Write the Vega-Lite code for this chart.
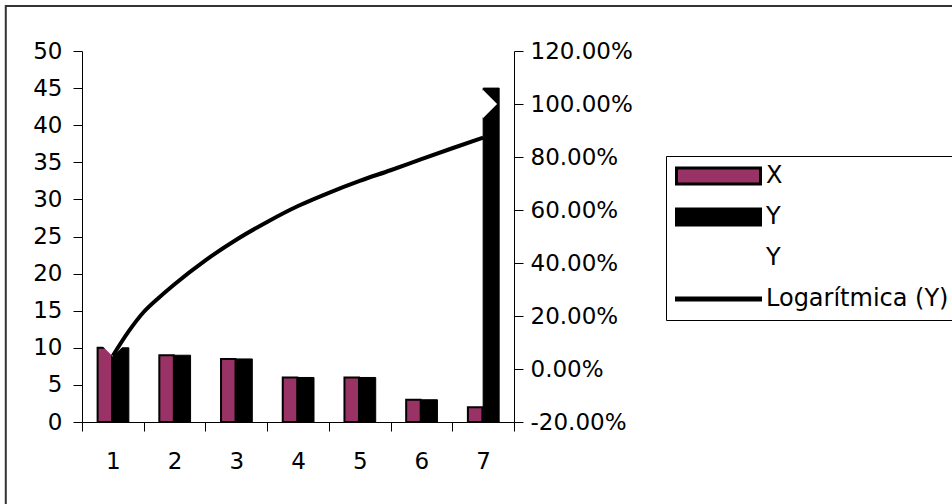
{
  "$schema": "https://vega.github.io/schema/vega-lite/v6.json",
  "width": 432,
  "height": 371,
  "autosize": {"type": "none"},
  "padding": {"left": 82, "top": 51, "right": 438, "bottom": 82},
  "background": "white",
  "config": {
    "view": {"stroke": null},
    "font": "DejaVu Sans"
  },
  "datasets": {
    "one": [{"k": 1}],
    "bars": [
      {"x": 1, "series": "X", "value": 10},
      {"x": 2, "series": "X", "value": 9},
      {"x": 3, "series": "X", "value": 8.5},
      {"x": 4, "series": "X", "value": 6},
      {"x": 5, "series": "X", "value": 6},
      {"x": 6, "series": "X", "value": 3},
      {"x": 7, "series": "X", "value": 2},
      {"x": 1, "series": "Y", "value": 10},
      {"x": 2, "series": "Y", "value": 9},
      {"x": 3, "series": "Y", "value": 8.5},
      {"x": 4, "series": "Y", "value": 6},
      {"x": 5, "series": "Y", "value": 6},
      {"x": 6, "series": "Y", "value": 3},
      {"x": 7, "series": "Y", "value": 45}
    ],
    "marker": [
      {"x": 1, "pct": 0.1},
      {"x": 7, "pct": 1.0}
    ],
    "trend": [
      {"x": 1, "pct": 0.05},
      {"x": 1.25, "pct": 0.14},
      {"x": 1.5, "pct": 0.215},
      {"x": 1.75, "pct": 0.27},
      {"x": 2, "pct": 0.32},
      {"x": 2.5, "pct": 0.41},
      {"x": 3, "pct": 0.488},
      {"x": 3.5, "pct": 0.555},
      {"x": 4, "pct": 0.615},
      {"x": 4.5, "pct": 0.665},
      {"x": 5, "pct": 0.71},
      {"x": 5.5, "pct": 0.75},
      {"x": 6, "pct": 0.792},
      {"x": 6.5, "pct": 0.833},
      {"x": 7, "pct": 0.873}
    ]
  },
  "layer": [
    {
      "layer": [
        {
          "data": {"name": "one"},
          "mark": {"type": "rect", "fill": "transparent", "stroke": "#333", "strokeWidth": 2, "clip": false},
          "encoding": {
            "x": {
              "datum": -0.735, "type": "quantitative",
              "scale": {"domain": [0.5, 7.5], "nice": false, "zero": false, "padding": 0},
              "axis": {
                "title": null,
                "values": [0.5, 1.5, 2.5, 3.5, 4.5, 5.5, 6.5, 7.5],
                "labelExpr": "datum.value < 1 ? '' : format(datum.value - 0.5, 'd')",
                "labelOffset": -30.857, "labelFlush": false, "labelOverlap": false,
                "tickSize": 9, "tickColor": "#000", "domain": true, "domainColor": "#000", "grid": false,
                "labelFont": "DejaVu Sans", "labelFontSize": 23, "labelColor": "#000", "labelPadding": 19
              }
            },
            "x2": {"datum": 20},
            "y": {
              "datum": 56.06, "type": "quantitative",
              "scale": {"domain": [0, 50], "nice": false, "zero": false, "padding": 0},
              "axis": {
                "title": null,
                "values": [0, 5, 10, 15, 20, 25, 30, 35, 40, 45, 50],
                "labelOverlap": false,
                "tickSize": 9, "tickColor": "#000", "domain": true, "domainColor": "#000", "grid": false,
                "labelFont": "DejaVu Sans", "labelFontSize": 23, "labelColor": "#000", "labelPadding": 11
              }
            },
            "y2": {"datum": -20}
          }
        },
        {
          "data": {"name": "bars"},
          "transform": [{"filter": "datum.series === 'X'"}],
          "mark": {"type": "bar", "size": 14.5, "xOffset": -8, "stroke": "#000", "strokeWidth": 2},
          "encoding": {
            "x": {
              "field": "x", "type": "quantitative",
              "scale": {"domain": [0.5, 7.5], "nice": false, "zero": false, "padding": 0},
              "axis": {
                "title": null,
                "values": [0.5, 1.5, 2.5, 3.5, 4.5, 5.5, 6.5, 7.5],
                "labelExpr": "datum.value < 1 ? '' : format(datum.value - 0.5, 'd')",
                "labelOffset": -30.857, "labelFlush": false, "labelOverlap": false,
                "tickSize": 9, "tickColor": "#000", "domain": true, "domainColor": "#000", "grid": false,
                "labelFont": "DejaVu Sans", "labelFontSize": 23, "labelColor": "#000", "labelPadding": 19
              }
            },
            "y": {
              "field": "value", "type": "quantitative",
              "scale": {"domain": [0, 50], "nice": false, "zero": false, "padding": 0},
              "axis": {
                "title": null,
                "values": [0, 5, 10, 15, 20, 25, 30, 35, 40, 45, 50],
                "labelOverlap": false,
                "tickSize": 9, "tickColor": "#000", "domain": true, "domainColor": "#000", "grid": false,
                "labelFont": "DejaVu Sans", "labelFontSize": 23, "labelColor": "#000", "labelPadding": 11
              }
            },
            "color": {
              "field": "series", "type": "nominal",
              "scale": {"domain": ["X", "Y", "Y ", "Logarítmica (Y)"], "range": ["#993366", "#000000", "transparent", "#000000"]},
              "legend": {
                "orient": "none", "legendX": 584, "legendY": 105,
                "title": null, "padding": 9,
                "strokeColor": "#000", "fillColor": "#fff",
                "symbolSize": 7056, "clipHeight": 22, "rowPadding": 17,
                "symbolStrokeColor": "#000", "symbolStrokeWidth": 3,
                "labelFont": "DejaVu Sans", "labelFontSize": 24, "labelColor": "#000", "labelOffset": 4, "labelLimit": 400,
                "encode": {
                  "symbols": {
                    "update": {
                      "shape": {"signal": "datum.value === 'Logarítmica (Y)' ? 'M-1,-0.025H1V0.025H-1Z' : (datum.value === 'Y ' ? 'M0,0Z' : 'M-1,-0.19H1V0.19H-1Z')"}
                    }
                  }
                }
              }
            }
          }
        },
        {
          "data": {"name": "bars"},
          "transform": [{"filter": "datum.series === 'Y'"}],
          "mark": {"type": "bar", "size": 16, "xOffset": 8, "stroke": "#000", "strokeWidth": 1},
          "encoding": {
            "x": {
              "field": "x", "type": "quantitative",
              "scale": {"domain": [0.5, 7.5], "nice": false, "zero": false, "padding": 0},
              "axis": {
                "title": null,
                "values": [0.5, 1.5, 2.5, 3.5, 4.5, 5.5, 6.5, 7.5],
                "labelExpr": "datum.value < 1 ? '' : format(datum.value - 0.5, 'd')",
                "labelOffset": -30.857, "labelFlush": false, "labelOverlap": false,
                "tickSize": 9, "tickColor": "#000", "domain": true, "domainColor": "#000", "grid": false,
                "labelFont": "DejaVu Sans", "labelFontSize": 23, "labelColor": "#000", "labelPadding": 19
              }
            },
            "y": {
              "field": "value", "type": "quantitative",
              "scale": {"domain": [0, 50], "nice": false, "zero": false, "padding": 0},
              "axis": {
                "title": null,
                "values": [0, 5, 10, 15, 20, 25, 30, 35, 40, 45, 50],
                "labelOverlap": false,
                "tickSize": 9, "tickColor": "#000", "domain": true, "domainColor": "#000", "grid": false,
                "labelFont": "DejaVu Sans", "labelFontSize": 23, "labelColor": "#000", "labelPadding": 11
              }
            },
            "color": {"field": "series", "type": "nominal", "legend": null}
          }
        }
      ]
    },
    {
      "layer": [
        {
          "data": {"name": "marker"},
          "mark": {"type": "point", "shape": "diamond", "filled": true, "fill": "#ffffff", "size": 784, "opacity": 1, "strokeWidth": 0},
          "encoding": {
            "x": {
              "field": "x", "type": "quantitative",
              "scale": {"domain": [0.5, 7.5], "nice": false, "zero": false, "padding": 0},
              "axis": {
                "title": null,
                "values": [0.5, 1.5, 2.5, 3.5, 4.5, 5.5, 6.5, 7.5],
                "labelExpr": "datum.value < 1 ? '' : format(datum.value - 0.5, 'd')",
                "labelOffset": -30.857, "labelFlush": false, "labelOverlap": false,
                "tickSize": 9, "tickColor": "#000", "domain": true, "domainColor": "#000", "grid": false,
                "labelFont": "DejaVu Sans", "labelFontSize": 23, "labelColor": "#000", "labelPadding": 19
              }
            },
            "y": {
              "field": "pct", "type": "quantitative",
              "scale": {"domain": [-0.2, 1.2], "nice": false, "zero": false},
              "axis": {
                "title": null,
                "orient": "right",
                "values": [-0.2, 0, 0.2, 0.4, 0.6, 0.8, 1, 1.2],
                "format": ".2%",
                "labelExpr": "replace(datum.label, '\u2212', '-')",
                "labelOverlap": false,
                "tickSize": 9, "tickColor": "#000", "domain": true, "domainColor": "#000", "grid": false,
                "labelFont": "DejaVu Sans", "labelFontSize": 23, "labelColor": "#000", "labelPadding": 7
              }
            }
          }
        },
        {
          "data": {"name": "trend"},
          "mark": {"type": "line", "color": "#000", "strokeWidth": 4, "interpolate": "monotone"},
          "encoding": {
            "x": {
              "field": "x", "type": "quantitative",
              "scale": {"domain": [0.5, 7.5], "nice": false, "zero": false, "padding": 0},
              "axis": {
                "title": null,
                "values": [0.5, 1.5, 2.5, 3.5, 4.5, 5.5, 6.5, 7.5],
                "labelExpr": "datum.value < 1 ? '' : format(datum.value - 0.5, 'd')",
                "labelOffset": -30.857, "labelFlush": false, "labelOverlap": false,
                "tickSize": 9, "tickColor": "#000", "domain": true, "domainColor": "#000", "grid": false,
                "labelFont": "DejaVu Sans", "labelFontSize": 23, "labelColor": "#000", "labelPadding": 19
              }
            },
            "y": {
              "field": "pct", "type": "quantitative",
              "scale": {"domain": [-0.2, 1.2], "nice": false, "zero": false},
              "axis": {
                "title": null,
                "orient": "right",
                "values": [-0.2, 0, 0.2, 0.4, 0.6, 0.8, 1, 1.2],
                "format": ".2%",
                "labelExpr": "replace(datum.label, '\u2212', '-')",
                "labelOverlap": false,
                "tickSize": 9, "tickColor": "#000", "domain": true, "domainColor": "#000", "grid": false,
                "labelFont": "DejaVu Sans", "labelFontSize": 23, "labelColor": "#000", "labelPadding": 7
              }
            }
          }
        }
      ]
    }
  ],
  "resolve": {"scale": {"y": "independent"}}
}
